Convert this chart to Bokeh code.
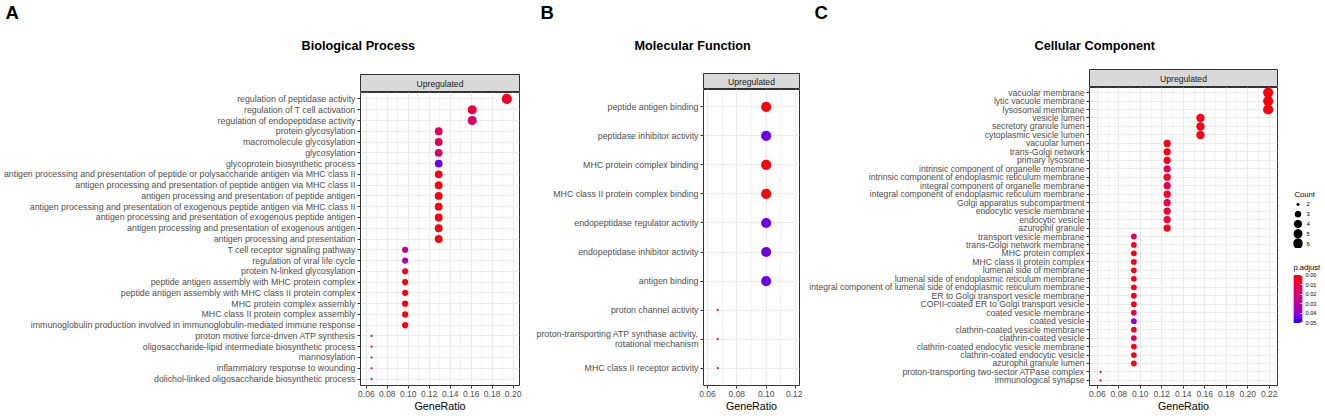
import math
from bokeh.plotting import figure
from bokeh.layouts import row, column
from bokeh.models import (ColumnDataSource, FactorRange, Range1d, SingleIntervalTicker,
                          PrintfTickFormatter, FixedTicker, Label, Title)
from bokeh.transform import linear_cmap
from bokeh.embed import file_html
from bokeh.resources import INLINE

# ---------------- data ----------------
bp_terms = [
    "regulation of peptidase activity",
    "regulation of T cell activation",
    "regulation of endopeptidase activity",
    "protein glycosylation",
    "macromolecule glycosylation",
    "glycosylation",
    "glycoprotein biosynthetic process",
    "antigen processing and presentation of peptide or polysaccharide antigen via MHC class II",
    "antigen processing and presentation of peptide antigen via MHC class II",
    "antigen processing and presentation of peptide antigen",
    "antigen processing and presentation of exogenous peptide antigen via MHC class II",
    "antigen processing and presentation of exogenous peptide antigen",
    "antigen processing and presentation of exogenous antigen",
    "antigen processing and presentation",
    "T cell receptor signaling pathway",
    "regulation of viral life cycle",
    "protein N-linked glycosylation",
    "peptide antigen assembly with MHC protein complex",
    "peptide antigen assembly with MHC class II protein complex",
    "MHC protein complex assembly",
    "MHC class II protein complex assembly",
    "immunoglobulin production involved in immunoglobulin-mediated immune response",
    "proton motive force-driven ATP synthesis",
    "oligosaccharide-lipid intermediate biosynthetic process",
    "mannosylation",
    "inflammatory response to wounding",
    "dolichol-linked oligosaccharide biosynthetic process",
]
bp_ratio = [0.194, 0.161, 0.161, 0.129, 0.129, 0.129, 0.129, 0.129, 0.129, 0.129,
            0.129, 0.129, 0.129, 0.129, 0.097, 0.097, 0.097, 0.097, 0.097, 0.097,
            0.097, 0.097, 0.065, 0.065, 0.065, 0.065, 0.065]
bp_count = [6, 5, 5, 4, 4, 4, 4, 4, 4, 4, 4, 4, 4, 4, 3, 3, 3, 3, 3, 3, 3, 3, 2, 2, 2, 2, 2]
bp_padj = [0.004, 0.009, 0.018, 0.014, 0.014, 0.017, 0.044, 0.001, 0.001, 0.001,
           0.001, 0.001, 0.001, 0.001, 0.030, 0.035, 0.006, 0.001, 0.001, 0.001,
           0.001, 0.002, 0.015, 0.008, 0.043, 0.006, 0.010]

mf_terms = [
    "peptide antigen binding",
    "peptidase inhibitor activity",
    "MHC protein complex binding",
    "MHC class II protein complex binding",
    "endopeptidase regulator activity",
    "endopeptidase inhibitor activity",
    "antigen binding",
    "proton channel activity",
    "proton-transporting ATP synthase activity,\nrotational mechanism",
    "MHC class II receptor activity",
]
mf_ratio = [0.100, 0.100, 0.100, 0.100, 0.100, 0.100, 0.100, 0.067, 0.067, 0.067]
mf_count = [3, 3, 3, 3, 3, 3, 3, 2, 2, 2]
mf_padj = [0.001, 0.044, 0.001, 0.001, 0.044, 0.044, 0.044, 0.002, 0.002, 0.002]

cc_terms = [
    "vacuolar membrane",
    "lytic vacuole membrane",
    "lysosomal membrane",
    "vesicle lumen",
    "secretory granule lumen",
    "cytoplasmic vesicle lumen",
    "vacuolar lumen",
    "trans-Golgi network",
    "primary lysosome",
    "intrinsic component of organelle membrane",
    "intrinsic component of endoplasmic reticulum membrane",
    "integral component of organelle membrane",
    "integral component of endoplasmic reticulum membrane",
    "Golgi apparatus subcompartment",
    "endocytic vesicle membrane",
    "endocytic vesicle",
    "azurophil granule",
    "transport vesicle membrane",
    "trans-Golgi network membrane",
    "MHC protein complex",
    "MHC class II protein complex",
    "lumenal side of membrane",
    "lumenal side of endoplasmic reticulum membrane",
    "integral component of lumenal side of endoplasmic reticulum membrane",
    "ER to Golgi transport vesicle membrane",
    "COPII-coated ER to Golgi transport vesicle",
    "coated vesicle membrane",
    "coated vesicle",
    "clathrin-coated vesicle membrane",
    "clathrin-coated vesicle",
    "clathrin-coated endocytic vesicle membrane",
    "clathrin-coated endocytic vesicle",
    "azurophil granule lumen",
    "proton-transporting two-sector ATPase complex",
    "immunological synapse",
]
cc_ratio = [0.219, 0.219, 0.219, 0.156, 0.156, 0.156, 0.125, 0.125, 0.125, 0.125,
            0.125, 0.125, 0.125, 0.125, 0.125, 0.125, 0.125, 0.094, 0.094, 0.094,
            0.094, 0.094, 0.094, 0.094, 0.094, 0.094, 0.094, 0.094, 0.094, 0.094,
            0.094, 0.094, 0.094, 0.063, 0.063]
cc_count = [7, 7, 7, 5, 5, 5, 4, 4, 4, 4, 4, 4, 4, 4, 4, 4, 4, 3, 3, 3,
            3, 3, 3, 3, 3, 3, 3, 3, 3, 3, 3, 3, 3, 2, 2]
cc_padj = [0.001, 0.001, 0.001, 0.002, 0.002, 0.002, 0.002, 0.002, 0.002, 0.015,
           0.004, 0.012, 0.005, 0.009, 0.007, 0.007, 0.003, 0.015, 0.002, 0.001,
           0.001, 0.002, 0.002, 0.002, 0.002, 0.002, 0.012, 0.038, 0.005, 0.014,
           0.003, 0.003, 0.003, 0.004, 0.004]

legend_counts = [2, 3, 4, 5, 6]
padj_ticks = [0.0, 0.01, 0.02, 0.03, 0.04, 0.05]

FONT = "Liberation Sans"


# ---------------- colour scale (red -> blue, interpolated in CIELAB) ----------------
def _lin(c):
    c = c / 255.0
    return c / 12.92 if c <= 0.04045 else ((c + 0.055) / 1.055) ** 2.4


def rgb2lab(r, g, b):
    r, g, b = _lin(r), _lin(g), _lin(b)
    X = (0.4124 * r + 0.3576 * g + 0.1805 * b) / 0.95047
    Y = (0.2126 * r + 0.7152 * g + 0.0722 * b)
    Z = (0.0193 * r + 0.1192 * g + 0.9505 * b) / 1.08883
    f = lambda t: t ** (1 / 3) if t > 0.008856 else 7.787 * t + 16 / 116
    fx, fy, fz = f(X), f(Y), f(Z)
    return 116 * fy - 16, 500 * (fx - fy), 200 * (fy - fz)


def lab2hex(L, a, b):
    fy = (L + 16) / 116
    fx = fy + a / 500
    fz = fy - b / 200
    finv = lambda t: t ** 3 if t ** 3 > 0.008856 else (t - 16 / 116) / 7.787
    X, Y, Z = finv(fx) * 0.95047, finv(fy), finv(fz) * 1.08883
    r = 3.2406 * X - 1.5372 * Y - 0.4986 * Z
    g = -0.9689 * X + 1.8758 * Y + 0.0415 * Z
    bb = 0.0557 * X - 0.2040 * Y + 1.0570 * Z

    def enc(c):
        c = max(0.0, min(1.0, c))
        c = 12.92 * c if c <= 0.0031308 else 1.055 * c ** (1 / 2.4) - 0.055
        return int(round(c * 255))
    return "#%02x%02x%02x" % (enc(r), enc(g), enc(bb))


def lab_palette(c0, c1, n=256):
    l0, l1 = rgb2lab(*c0), rgb2lab(*c1)
    out = []
    for i in range(n):
        t = i / (n - 1)
        out.append(lab2hex(*[l0[k] + (l1[k] - l0[k]) * t for k in range(3)]))
    return out


PALETTE = lab_palette((255, 0, 0), (0, 0, 255))
PMIN, PMAX = min(padj_ticks), max(padj_ticks)


def dot_sizes(counts, lo, hi):
    return [1.6 * (1 + 5 * math.sqrt((c - lo) / (hi - lo))) + 0.6 for c in counts]


GRID = "#EBEBEB"
BORDER = "#333333"
TXT = "#4D4D4D"
H = 414
TITLE_PX, LETTER_PX = 12.7, 18.5
LETTER_CY, TITLE_CY = 12, 46


def make_panel(terms, ratio, count, padj, xr, fig_w, mbl, mbr, strip_top, strip_h,
               frame_h, label_px, letter, letter_off, title, title_off):
    s_h = strip_top + strip_h
    main_h = H - s_h

    # header figure: its frame is the grey "Upregulated" strip
    s = figure(width=fig_w, height=s_h, x_range=Range1d(*xr), y_range=Range1d(0, 1),
               x_axis_location=None, y_axis_location=None, title_location=None,
               min_border_left=mbl, min_border_right=mbr, min_border_top=strip_top,
               min_border_bottom=0, toolbar_location=None, output_backend="svg",
               background_fill_color="#D9D9D9")
    s.grid.visible = False
    s.outline_line_color = BORDER
    s.add_layout(Label(x=(xr[0] + xr[1]) / 2, y=0.5, text="Upregulated",
                       text_align="center", text_baseline="middle", text_font=FONT,
                       text_font_size="8.6px", text_color="#1A1A1A"))
    # stacked titles above the strip: first the panel title, then the panel letter
    h1 = 1.117 * TITLE_PX
    h2 = 1.117 * LETTER_PX
    s1 = 2 * (strip_top - 2 - h1 / 2 - TITLE_CY)
    top1 = strip_top - (2 + h1 + s1)
    s2 = 2 * (top1 - 2 - h2 / 2 - LETTER_CY)
    s.add_layout(Title(text=title, align="left", offset=title_off, vertical_align="top",
                       standoff=s1, text_font=FONT, text_font_size="%.1fpx" % TITLE_PX,
                       text_font_style="bold", text_color="black"), "above")
    s.add_layout(Title(text=letter, align="left", offset=letter_off, vertical_align="top",
                       standoff=s2, text_font=FONT, text_font_size="%.1fpx" % LETTER_PX,
                       text_font_style="bold", text_color="black"), "above")

    # dot plot
    p = figure(width=fig_w, height=main_h, x_range=s.x_range,
               y_range=FactorRange(factors=list(reversed(terms)), range_padding=0.1,
                                   range_padding_units="absolute"),
               min_border_left=mbl, min_border_right=mbr, min_border_top=0,
               min_border_bottom=main_h - frame_h, toolbar_location=None,
               output_backend="svg")
    src = ColumnDataSource(dict(term=terms, ratio=ratio, count=count, padj=padj,
                                size=dot_sizes(count, min(count), max(count))))
    p.scatter("ratio", "term", size="size", source=src, line_color=None,
              fill_color=linear_cmap("padj", PALETTE, PMIN, PMAX))
    p.outline_line_color = BORDER
    p.outline_line_width = 1
    p.xaxis.ticker = SingleIntervalTicker(interval=0.02, num_minor_ticks=2)
    p.xaxis.formatter = PrintfTickFormatter(format="%.2f")
    p.xaxis.axis_label = "GeneRatio"
    p.xaxis.axis_label_text_font = FONT
    p.xaxis.axis_label_text_font_size = "10.7px"
    p.xaxis.axis_label_text_font_style = "normal"
    p.xaxis.axis_label_text_color = "black"
    p.xaxis.axis_label_standoff = 0
    p.xaxis.minor_tick_line_color = None
    for ax in (p.xaxis, p.yaxis):
        ax.axis_line_color = None
        ax.major_tick_line_color = BORDER
        ax.major_tick_out = 3
        ax.major_tick_in = 0
        ax.major_label_text_font = FONT
        ax.major_label_text_color = TXT
    p.xaxis.major_label_text_font_size = "8.5px"
    p.xaxis.major_label_standoff = 1
    p.yaxis.major_label_text_font_size = label_px
    p.yaxis.major_label_text_line_height = 1.05
    p.yaxis.major_label_standoff = 2
    p.xgrid.grid_line_color = GRID
    p.xgrid.grid_line_width = 1
    p.xgrid.minor_grid_line_color = GRID
    p.xgrid.minor_grid_line_width = 0.6
    p.ygrid.grid_line_color = GRID
    p.ygrid.grid_line_width = 1
    return column(s, p, spacing=0)


colA = make_panel(bp_terms, bp_ratio, bp_count, bp_padj, (0.0544, 0.2061),
                  530, 357, 11, 74, 18, 295, "8.8px", "A", -355, "Biological Process", -59)
colB = make_panel(mf_terms, mf_ratio, mf_count, mf_padj, (0.0573, 0.1227),
                  272, 173, 3, 73, 16, 296, "8.8px", "B", -163, "Molecular Function", -69)
colC = make_panel(cc_terms, cc_ratio, cc_count, cc_padj, (0.0527, 0.2277),
                  480, 287, 5, 69, 18, 300, "8.65px", "C", -275, "Cellular Component", -55)

# ---------------- legends ----------------
# size legend ("Count")
leg_factors = [str(c) for c in legend_counts]
lg = figure(width=40, height=248, x_range=Range1d(0, 1),
            y_range=FactorRange(factors=list(reversed(leg_factors))),
            x_axis_location=None, y_axis_location="right",
            min_border_left=10, min_border_right=20, min_border_top=199, min_border_bottom=0,
            toolbar_location=None, output_backend="svg")
lsrc = ColumnDataSource(dict(lab=leg_factors, xx=[0.5] * len(leg_factors),
                             size=dot_sizes(legend_counts, min(cc_count), max(cc_count))))
lg.scatter("xx", "lab", size="size", source=lsrc, color="black")
lg.grid.visible = False
lg.outline_line_color = None
lg.yaxis.axis_line_color = None
lg.yaxis.major_tick_line_color = None
lg.yaxis.major_tick_out = 0
lg.yaxis.major_tick_in = 0
lg.yaxis.major_label_text_font = FONT
lg.yaxis.major_label_text_font_size = "6px"
lg.yaxis.major_label_text_color = "black"
lg.yaxis.major_label_standoff = 4
lg.title.text = "Count"
lg.title.align = "left"
lg.title.offset = 1
lg.title.standoff = 2
lg.title.text_font = FONT
lg.title.text_font_size = "7.6px"
lg.title.text_font_style = "normal"
lg.title.text_color = "black"

# colour legend ("p.adjust")
cbf = figure(width=40, height=H - 248, x_range=Range1d(0, 1),
             y_range=Range1d(PMAX + 0.001, PMIN - 0.001),
             x_axis_location=None, y_axis_location="right",
             min_border_left=11, min_border_right=19, min_border_top=26, min_border_bottom=91,
             toolbar_location=None, output_backend="svg")
nbin = 25
step = (PMAX - PMIN) / nbin
ramp = [PMIN + (i + 0.5) * step for i in range(nbin)]
cbf.quad(left=0, right=1, bottom="b", top="t",
         source=ColumnDataSource(dict(v=ramp, b=[v - 0.75 * step for v in ramp],
                                      t=[v + 0.75 * step for v in ramp])),
         fill_color=linear_cmap("v", PALETTE, PMIN, PMAX), fill_alpha=1.0, line_color=None)
cbf.grid.visible = False
cbf.outline_line_color = None
cbf.yaxis.ticker = FixedTicker(ticks=padj_ticks)
cbf.yaxis.formatter = PrintfTickFormatter(format="%.2f")
cbf.yaxis.axis_line_color = None
cbf.yaxis.major_tick_line_color = "white"
cbf.yaxis.major_tick_in = 2
cbf.yaxis.major_tick_out = 0
cbf.yaxis.minor_tick_line_color = None
cbf.yaxis.major_label_text_font = FONT
cbf.yaxis.major_label_text_font_size = "5.6px"
cbf.yaxis.major_label_text_color = "black"
cbf.yaxis.major_label_standoff = 3
cbf.title.text = "p.adjust"
cbf.title.align = "left"
cbf.title.offset = 0
cbf.title.standoff = 5
cbf.title.text_font = FONT
cbf.title.text_font_size = "7.6px"
cbf.title.text_font_style = "normal"
cbf.title.text_color = "black"

colL = column(lg, cbf, spacing=0)

layout = row(colA, colB, colC, colL, spacing=0)
open("out.html", "w").write(file_html(layout, INLINE))
